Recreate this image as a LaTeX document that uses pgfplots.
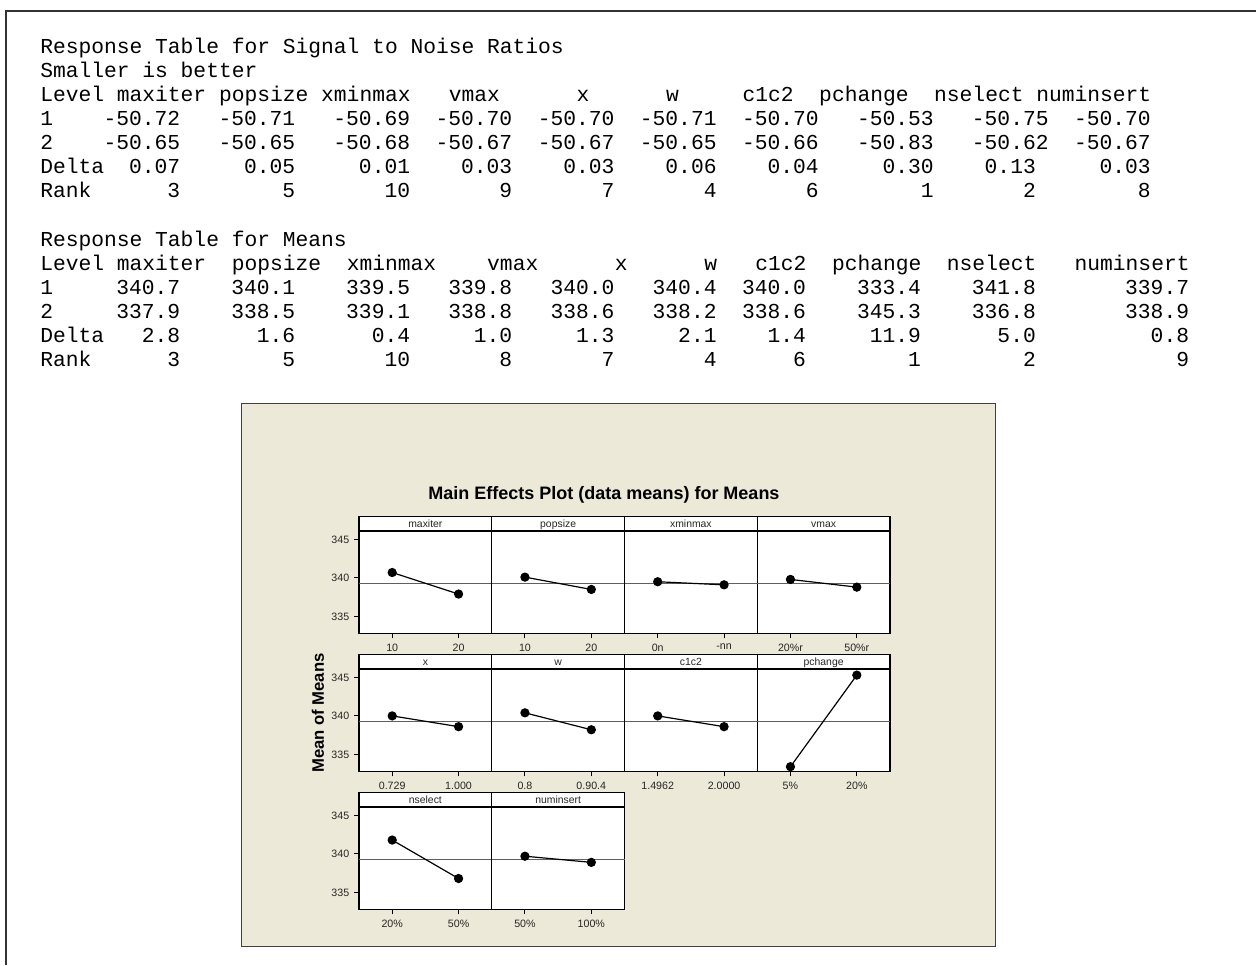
\documentclass[border=0pt]{standalone}
\usepackage{pgfplots}
\pgfplotsset{compat=1.18}
\usepackage{fontspec}
\setmainfont{Liberation Sans}
\setmonofont{Liberation Mono}
\definecolor{panelbg}{RGB}{236,233,216}
\definecolor{refgray}{RGB}{95,95,95}
\newcommand{\mono}{\ttfamily\fontsize{15.96}{19}\selectfont}
\newcommand{\tok}[3]{\node[anchor=base west, inner sep=0pt, font=\mono] at ({40+12.77*#1},#2) {#3};}
\newcommand{\tokr}[3]{\node[anchor=base east, inner sep=0pt, font=\mono] at ({40+12.77*#1},#2) {#3};}
\pgfplotsset{
  mep/.style={
    scale only axis, width=99.5625pt, height=76.2pt,
    xmin=0.5, xmax=2.5, ymin=332.8, ymax=346.0,
    xtick={1,2}, ytick={335,340,345},
    xtick pos=bottom, ytick pos=left,
    tick align=outside, major tick length=3.75pt,
    every tick/.style={black, line width=0.7pt},
    axis line style={line width=0.8pt, black},
    axis background/.style={fill=white},
    ticklabel style={font=\fontsize{8}{9}\selectfont, text=black!85},
    xticklabel style={yshift=-0.8pt},
    every axis title/.style={at={(0.5,1)}, anchor=south, draw=black, line width=1pt,
      fill=white, minimum width=99.5625pt, minimum height=11pt, inner sep=0pt,
      text height=7.6pt, text depth=1.9pt,
      font=\fontsize{7.8}{9}\selectfont, text=black!85},
    clip=false,
  },
  leftcol/.style={yticklabels={335,340,345}},
  inner/.style={ytick=\empty},
  refl/.style={refgray, line width=0.7pt, forget plot},
  dat/.style={black, line width=0.9pt, mark=*, mark size=3pt, mark options={solid, fill=black}},
}
\begin{document}
\begin{tikzpicture}
\useasboundingbox (0,0) rectangle (942pt,-723.75pt);
\begin{scope}[x=0.75pt,y=-0.75pt]
  % outer frame
  \draw[line width=1.5pt, black!80] (6,965) -- (6,11) -- (1256,11);
  % chart panel
  \draw[fill=panelbg, draw=black!75, line width=0.6pt] (241.7,403) rectangle (995,946.7);
  \node[font=\bfseries\fontsize{13.5}{16}\selectfont] at (604,495) {Main Effects Plot (data means) for Means};
  \node[rotate=90, font=\bfseries\fontsize{12.5}{14}\selectfont] at (318,713) {Mean of Means};
\end{scope}

% Row 1
\begin{axis}[mep, leftcol, at={(269.25pt,-474.98pt)}, anchor=south west, title={maxiter}, xticklabels={10,20}]
\addplot[refl] coordinates {(0.5,339.3) (2.5,339.3)};
\addplot[dat] coordinates {(1,340.7) (2,337.9)};
\end{axis}
\begin{axis}[mep, inner, at={(368.81pt,-474.98pt)}, anchor=south west, title={popsize}, xticklabels={10,20}]
\addplot[refl] coordinates {(0.5,339.3) (2.5,339.3)};
\addplot[dat] coordinates {(1,340.1) (2,338.5)};
\end{axis}
\begin{axis}[mep, inner, at={(468.38pt,-474.98pt)}, anchor=south west, title={xminmax}, xticklabels={0n,-nn}]
\addplot[refl] coordinates {(0.5,339.3) (2.5,339.3)};
\addplot[dat] coordinates {(1,339.5) (2,339.1)};
\end{axis}
\begin{axis}[mep, inner, at={(567.94pt,-474.98pt)}, anchor=south west, title={vmax}, xticklabels={20\%r,50\%r}]
\addplot[refl] coordinates {(0.5,339.3) (2.5,339.3)};
\addplot[dat] coordinates {(1,339.8) (2,338.8)};
\end{axis}

% Row 2
\begin{axis}[mep, leftcol, at={(269.25pt,-578.48pt)}, anchor=south west, title={x}, xticklabels={0.729,1.000}]
\addplot[refl] coordinates {(0.5,339.3) (2.5,339.3)};
\addplot[dat] coordinates {(1,340.0) (2,338.6)};
\end{axis}
\begin{axis}[mep, inner, at={(368.81pt,-578.48pt)}, anchor=south west, title={w}, xticklabels={0.8,0.90.4}]
\addplot[refl] coordinates {(0.5,339.3) (2.5,339.3)};
\addplot[dat] coordinates {(1,340.4) (2,338.2)};
\end{axis}
\begin{axis}[mep, inner, at={(468.38pt,-578.48pt)}, anchor=south west, title={c1c2}, xticklabels={1.4962,2.0000}]
\addplot[refl] coordinates {(0.5,339.3) (2.5,339.3)};
\addplot[dat] coordinates {(1,340.0) (2,338.6)};
\end{axis}
\begin{axis}[mep, inner, at={(567.94pt,-578.48pt)}, anchor=south west, title={pchange}, xticklabels={5\%,20\%}]
\addplot[refl] coordinates {(0.5,339.3) (2.5,339.3)};
\addplot[dat] coordinates {(1,333.4) (2,345.3)};
\end{axis}

% Row 3
\begin{axis}[mep, leftcol, at={(269.25pt,-681.98pt)}, anchor=south west, title={nselect}, xticklabels={20\%,50\%}]
\addplot[refl] coordinates {(0.5,339.3) (2.5,339.3)};
\addplot[dat] coordinates {(1,341.8) (2,336.8)};
\end{axis}
\begin{axis}[mep, inner, at={(368.81pt,-681.98pt)}, anchor=south west, title={numinsert}, xticklabels={50\%,100\%}]
\addplot[refl] coordinates {(0.5,339.3) (2.5,339.3)};
\addplot[dat] coordinates {(1,339.7) (2,338.9)};
\end{axis}

\begin{scope}[x=0.75pt,y=-0.75pt]
  % ---- Signal to noise table
  \tok{0}{53.0}{Response Table for Signal to Noise Ratios}
  \tok{0}{77.15}{Smaller is better}
  \tok{0}{101.3}{Level}\tok{6}{101.3}{maxiter}\tok{14}{101.3}{popsize}\tok{22}{101.3}{xminmax}
  \tok{32}{101.3}{vmax}\tok{42}{101.3}{x}\tok{49}{101.3}{w}\tok{55}{101.3}{c1c2}
  \tok{61}{101.3}{pchange}\tok{70}{101.3}{nselect}\tok{78}{101.3}{numinsert}
  \tok{0}{125.45}{1}
  \tokr{11}{125.45}{-50.72}\tokr{20}{125.45}{-50.71}\tokr{29}{125.45}{-50.69}\tokr{37}{125.45}{-50.70}
  \tokr{45}{125.45}{-50.70}\tokr{53}{125.45}{-50.71}\tokr{61}{125.45}{-50.70}\tokr{70}{125.45}{-50.53}
  \tokr{79}{125.45}{-50.75}\tokr{87}{125.45}{-50.70}
  \tok{0}{149.6}{2}
  \tokr{11}{149.6}{-50.65}\tokr{20}{149.6}{-50.65}\tokr{29}{149.6}{-50.68}\tokr{37}{149.6}{-50.67}
  \tokr{45}{149.6}{-50.67}\tokr{53}{149.6}{-50.65}\tokr{61}{149.6}{-50.66}\tokr{70}{149.6}{-50.83}
  \tokr{79}{149.6}{-50.62}\tokr{87}{149.6}{-50.67}
  \tok{0}{173.75}{Delta}
  \tokr{11}{173.75}{0.07}\tokr{20}{173.75}{0.05}\tokr{29}{173.75}{0.01}\tokr{37}{173.75}{0.03}
  \tokr{45}{173.75}{0.03}\tokr{53}{173.75}{0.06}\tokr{61}{173.75}{0.04}\tokr{70}{173.75}{0.30}
  \tokr{78}{173.75}{0.13}\tokr{87}{173.75}{0.03}
  \tok{0}{197.9}{Rank}
  \tokr{11}{197.9}{3}\tokr{20}{197.9}{5}\tokr{29}{197.9}{10}\tokr{37}{197.9}{9}
  \tokr{45}{197.9}{7}\tokr{53}{197.9}{4}\tokr{61}{197.9}{6}\tokr{70}{197.9}{1}
  \tokr{78}{197.9}{2}\tokr{87}{197.9}{8}
  % ---- Means table
  \tok{0}{246.2}{Response Table for Means}
  \tok{0}{270.35}{Level}\tok{6}{270.35}{maxiter}\tok{15}{270.35}{popsize}\tok{24}{270.35}{xminmax}
  \tok{35}{270.35}{vmax}\tok{45}{270.35}{x}\tok{52}{270.35}{w}\tok{56}{270.35}{c1c2}
  \tok{62}{270.35}{pchange}\tok{71}{270.35}{nselect}\tok{81}{270.35}{numinsert}
  \tok{0}{294.5}{1}
  \tokr{11}{294.5}{340.7}\tokr{20}{294.5}{340.1}\tokr{29}{294.5}{339.5}\tokr{37}{294.5}{339.8}
  \tokr{45}{294.5}{340.0}\tokr{53}{294.5}{340.4}\tokr{60}{294.5}{340.0}\tokr{69}{294.5}{333.4}
  \tokr{78}{294.5}{341.8}\tokr{90}{294.5}{339.7}
  \tok{0}{318.65}{2}
  \tokr{11}{318.65}{337.9}\tokr{20}{318.65}{338.5}\tokr{29}{318.65}{339.1}\tokr{37}{318.65}{338.8}
  \tokr{45}{318.65}{338.6}\tokr{53}{318.65}{338.2}\tokr{60}{318.65}{338.6}\tokr{69}{318.65}{345.3}
  \tokr{78}{318.65}{336.8}\tokr{90}{318.65}{338.9}
  \tok{0}{342.8}{Delta}
  \tokr{11}{342.8}{2.8}\tokr{20}{342.8}{1.6}\tokr{29}{342.8}{0.4}\tokr{37}{342.8}{1.0}
  \tokr{45}{342.8}{1.3}\tokr{53}{342.8}{2.1}\tokr{60}{342.8}{1.4}\tokr{69}{342.8}{11.9}
  \tokr{78}{342.8}{5.0}\tokr{90}{342.8}{0.8}
  \tok{0}{366.95}{Rank}
  \tokr{11}{366.95}{3}\tokr{20}{366.95}{5}\tokr{29}{366.95}{10}\tokr{37}{366.95}{8}
  \tokr{45}{366.95}{7}\tokr{53}{366.95}{4}\tokr{60}{366.95}{6}\tokr{69}{366.95}{1}
  \tokr{78}{366.95}{2}\tokr{90}{366.95}{9}
\end{scope}
\end{tikzpicture}
\end{document}
